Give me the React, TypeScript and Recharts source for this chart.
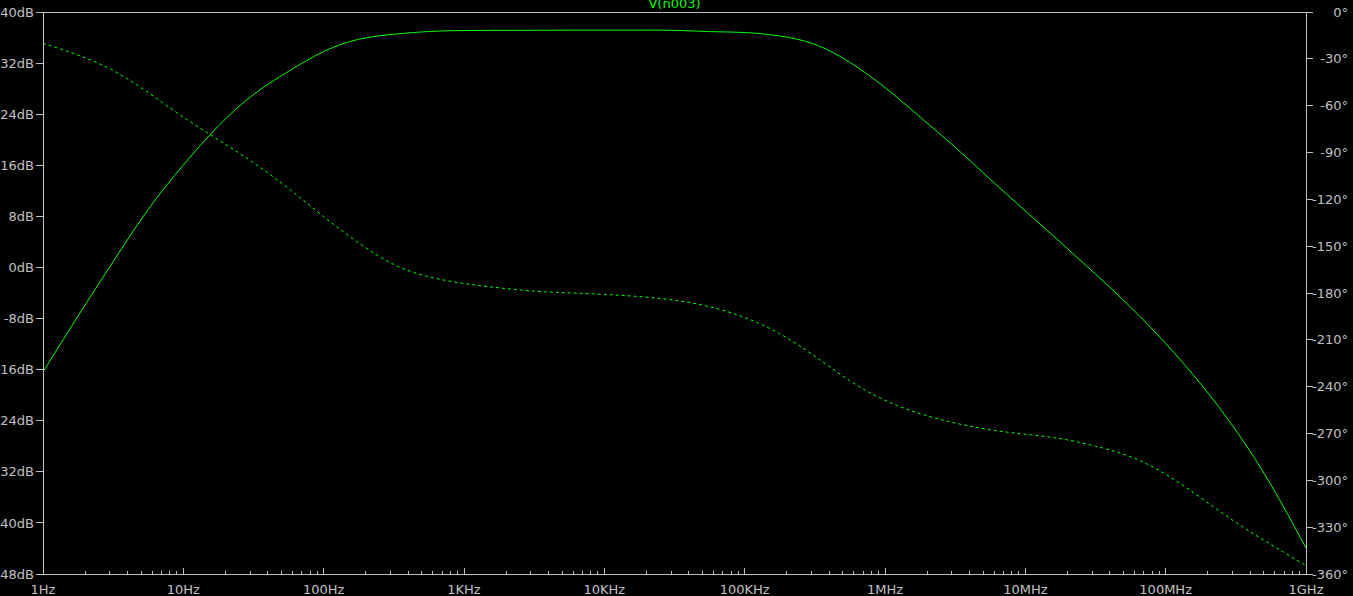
import { ComposedChart, Line, XAxis, YAxis, ReferenceLine } from "recharts";

// sweep points, quarter-decade steps from 1Hz to 1GHz
const freqs = [
  1, 1.778, 3.162, 5.623, 10, 17.78, 31.62, 56.23, 100, 177.8, 316.2, 562.3,
  1000, 1778, 3162, 5623, 10000, 17783, 31623, 56234, 100000, 177828, 316228,
  562341, 1e6, 1.778e6, 3.162e6, 5.623e6, 1e7, 1.778e7, 3.162e7, 5.623e7, 1e8,
  1.778e8, 3.162e8, 5.623e8, 1e9,
];

// V(n003) magnitude, dB
const magDb = [
  -16.37, -7.59, 0.91, 9.1, 16.04, 22.15, 27.08, 30.71, 33.81, 35.73, 36.52,
  36.95, 37.1, 37.13, 37.14, 37.15, 37.15, 37.15, 37.13, 36.93, 36.79, 36.24,
  34.94, 32.11, 28.18, 23.56, 18.83, 13.8, 8.85, 3.95, -1.04, -6.21, -11.91,
  -18.24, -25.5, -34.02, -43.93,
];

// V(n003) phase, degrees
const phaseDeg = [
  -20.05, -27.6, -37.5, -51.6, -67.3, -81.9, -96.6, -113.1, -131.1, -147.9,
  -161.7, -169.6, -173.9, -176.7, -178.8, -179.9, -180.9, -182.3, -184.6,
  -188.8, -195.7, -206.1, -220.5, -236.2, -248.7, -257.3, -263.3, -267.6,
  -270.5, -273.3, -278.1, -284.9, -296.1, -311.2, -326.9, -341.1, -354.6,
];

const decadeTicks = [1, 10, 100, 1e3, 1e4, 1e5, 1e6, 1e7, 1e8, 1e9];
const decadeLabels = ["1Hz", "10Hz", "100Hz", "1KHz", "10KHz", "100KHz", "1MHz", "10MHz", "100MHz", "1GHz"];
const minorSteps = [2, 3, 4, 5, 6, 7, 8, 9];
const dbTicks = [-48, -40, -32, -24, -16, -8, 0, 8, 16, 24, 32, 40];
const phaseTicks = [-360, -330, -300, -270, -240, -210, -180, -150, -120, -90, -60, -30, 0];

const data = freqs.map((f, i) => ({ f, mag: magDb[i], phase: phaseDeg[i] }));

const xTicks = [
  ...decadeTicks,
  ...decadeTicks.slice(0, -1).flatMap((d) => minorSteps.map((m) => d * m)),
].sort((a, b) => a - b);

const AXIS = "#c0c0c0";
const TRACE = "#00ff00";
const FONT = "'DejaVu Sans', sans-serif";

function XTick(props: any) {
  const { x, y, payload } = props;
  const idx = decadeTicks.indexOf(payload.value);
  const major = idx >= 0;
  return (
    <g>
      <line x1={x} y1={y} x2={x} y2={y - (major ? 6 : 3)} stroke={AXIS} shapeRendering="crispEdges" />
      {major && (
        <text x={x} y={y + 20} textAnchor="middle" fill={AXIS} fontSize={13} fontFamily={FONT}>
          {decadeLabels[idx]}
        </text>
      )}
    </g>
  );
}

function PhaseTick(props: any) {
  const { x, y, payload } = props;
  return (
    <text x={x + 33} y={y} dy="0.355em" textAnchor="end" fill={AXIS} fontSize={13} fontFamily={FONT}>
      {`${payload.value}°`}
    </text>
  );
}

export default function App() {
  return (
    <div style={{ position: "absolute", left: 0, top: 0, width: 1353, height: 596, background: "#000" }}>
      <div
        style={{
          position: "absolute",
          top: -3,
          left: 0,
          width: 1349,
          textAlign: "center",
          color: TRACE,
          fontFamily: FONT,
          fontSize: 13,
          lineHeight: "13px",
        }}
      >
        V(n003)
      </div>
      <ComposedChart width={1353} height={596} data={data} margin={{ top: 12, right: 0, bottom: 0, left: 0 }}>
        <XAxis
          dataKey="f"
          type="number"
          scale="log"
          domain={[1, 1e9]}
          allowDataOverflow
          ticks={xTicks}
          interval={0}
          height={22}
          tickSize={0}
          tickMargin={0}
          tickLine={false}
          axisLine={{ stroke: AXIS, shapeRendering: "crispEdges" }}
          tick={<XTick />}
        />
        <YAxis
          yAxisId="db"
          orientation="left"
          width={43}
          domain={[-48, 40]}
          ticks={dbTicks}
          interval={0}
          tickSize={7}
          tickMargin={2}
          tickFormatter={(v: number) => `${v}dB`}
          tick={{ fill: AXIS, fontSize: 13, fontFamily: FONT }}
          tickLine={{ stroke: AXIS, shapeRendering: "crispEdges" }}
          axisLine={{ stroke: AXIS, shapeRendering: "crispEdges" }}
        />
        <YAxis
          yAxisId="ph"
          orientation="right"
          width={47}
          domain={[-360, 0]}
          ticks={phaseTicks}
          interval={0}
          tickSize={7}
          tickMargin={2}
          tick={<PhaseTick />}
          tickLine={{ stroke: AXIS, shapeRendering: "crispEdges" }}
          axisLine={{ stroke: AXIS, shapeRendering: "crispEdges" }}
        />
        <ReferenceLine yAxisId="db" y={40} stroke={AXIS} shapeRendering="crispEdges" />
        <Line
          yAxisId="db"
          dataKey="mag"
          type="natural"
          stroke={TRACE}
          strokeWidth={1}
          dot={false}
          isAnimationActive={false}
        />
        <Line
          yAxisId="ph"
          dataKey="phase"
          type="natural"
          stroke={TRACE}
          strokeWidth={1}
          strokeDasharray="3 3"
          dot={false}
          isAnimationActive={false}
        />
      </ComposedChart>
    </div>
  );
}
